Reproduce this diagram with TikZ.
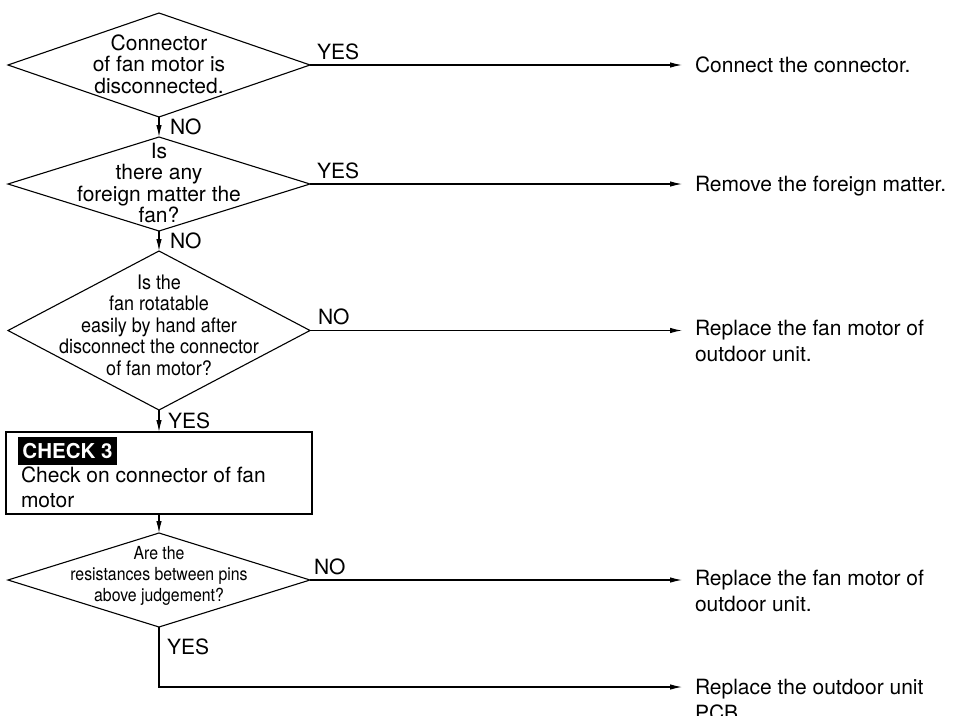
\documentclass[tikz,border=0pt]{standalone}
\usepackage{fontspec}
\setmainfont{TeX Gyre Heros}
\newfontfamily\condA[FakeStretch=0.9]{TeX Gyre Heros}
\newfontfamily\condB[FakeStretch=0.88]{TeX Gyre Heros}
\usetikzlibrary{shapes.geometric,arrows.meta}
\begin{document}
\begin{tikzpicture}[x=1pt,y=-1pt,
  every node/.style={inner sep=0pt, outer sep=0pt},
  dec/.style={diamond, draw, line width=1.1pt, inner sep=0pt, minimum width=302pt},
  procbox/.style={draw, line width=1.1pt, minimum width=306pt, minimum height=82pt},
  arr/.style={line width=1.1pt, -{Latex[length=12pt,width=5.5pt]}},
  lbl/.style={font=\fontsize{21}{21}\selectfont},
  dtext/.style={align=center, font=\fontsize{21}{21.5}\selectfont},
  rtext/.style={align=left, font=\fontsize{21}{26}\selectfont},
  chk/.style={fill=black, text=white, font=\fontsize{20.5}{21}\selectfont\bfseries, minimum width=99pt, minimum height=28pt}]
\useasboundingbox (0,0) rectangle (953,715);

% decisions
\node[dec, minimum height=104pt] (d1) at (159,65) {};
\node[dtext] (t1) at (159,64) {Connector\\of fan motor is\\disconnected.};
\node[dec, minimum height=94pt] (d2) at (159,184) {};
\node[dtext] (t2) at (159,183) {Is\\there any\\foreign matter the\\fan?};
\node[dec, minimum height=159pt] (d3) at (159,330.5) {};
\node[align=center, font=\fontsize{20}{21.5}\selectfont\condA] (t3) at (159,325) {Is the\\fan rotatable\\easily by hand after\\disconnect the connector\\of fan motor?};
\node[procbox] (bx) at (159,473) {};
\node[chk] (ck) at (67.5,451) {CHECK 3};
\node[anchor=north west, rtext, font=\fontsize{21}{25}\selectfont] (bt) at (21,467) {Check on connector of fan\\motor};
\node[dec, minimum height=94pt] (d4) at (159,580) {};
\node[align=center, font=\fontsize{18}{21}\selectfont\condB] (t4) at (159,576) {Are the\\resistances between pins\\above judgement?};

% end points of the horizontal arrows
\coordinate (c1) at (682,65);
\coordinate (c2) at (682,184);
\coordinate (c3) at (682,330.5);
\coordinate (c4) at (682,580);
\coordinate (c5) at (682,687);

% results
\node[anchor=base west, rtext] (r1) at (695,72.5) {Connect the connector.};
\node[anchor=base west, rtext] (r2) at (695,191.5) {Remove the foreign matter.};
\node[anchor=north west, rtext] (r3) at (695,320.5) {Replace the fan motor of\\outdoor unit.};
\node[anchor=north west, rtext] (r4) at (695,570.5) {Replace the fan motor of\\outdoor unit.};
\node[anchor=north west, rtext] (r5) at (695,679.5) {Replace the outdoor unit\\PCB.};

% horizontal arrows
\draw[arr] (d1.east) -- node[pos=0, anchor=base west, xshift=7pt, yshift=6pt, lbl] {YES} (c1);
\draw[arr] (d2.east) -- node[pos=0, anchor=base west, xshift=7pt, yshift=6pt, lbl] {YES} (c2);
\draw[arr] (d3.east) -- node[pos=0, anchor=base west, xshift=8pt, yshift=6pt, lbl] {NO} (c3);
\draw[arr] (d4.east) -- node[pos=0, anchor=base west, xshift=4pt, yshift=6pt, lbl] {NO} (c4);

% vertical arrows
\draw[arr] (d1.south) -- node[anchor=west, xshift=11pt, lbl] {NO} (d2.north);
\draw[arr] (d2.south) -- node[anchor=west, xshift=11pt, lbl] {NO} (d3.north);
\draw[arr] (d3.south) -- node[anchor=west, xshift=9pt, lbl] {YES} (bx.north);
\draw[arr] (bx.south) -- (d4.north);
\draw[arr] (d4.south) |- (c5);
\node[anchor=west, lbl] (ylast) at (167,647) {YES};
\end{tikzpicture}
\end{document}
